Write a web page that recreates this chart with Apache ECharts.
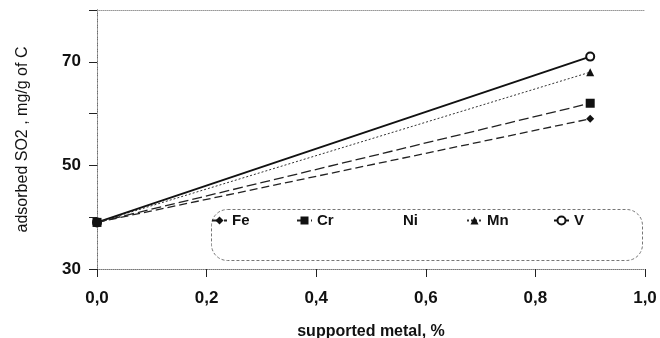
<!DOCTYPE html>
<html>
<head>
<meta charset="utf-8">
<script src="https://cdn.jsdelivr.net/npm/echarts@6/dist/echarts.min.js"></script>
<style>
  html, body { margin: 0; padding: 0; background: #fff; }
  #chart { width: 660px; height: 338px; }
</style>
</head>
<body>
<div id="chart"></div>
<script>
// supported metal loading, %
const loadings = [0, 0.9];

// adsorbed SO2, mg/g of C
const feValues = [39, 59];
const crValues = [39, 62];
const niValues = [39, 70];
const mnValues = [39, 68];
const vValues = [39, 71];

const seriesNames = ['Fe', 'Cr', 'Ni', 'Mn', 'V'];
const yLabels = [30, 50, 70];

const FONT = '"Liberation Sans", Arial, sans-serif';

// left edge of each legend entry (icon start), px
const legendLefts = [211, 296, 382, 466, 553];

function pairs(values) {
    return loadings.map((x, i) => [x, values[i]]);
}

const chart = echarts.init(document.getElementById('chart'));

const frameAxis = {
    show: true,
    axisLine: { show: true, lineStyle: { color: '#999', type: 'dotted', width: 1 } },
    axisTick: { show: false },
    axisLabel: { show: false },
    splitLine: { show: false }
};

const legends = seriesNames.map((name, i) => ({
    data: [name],
    left: legendLefts[i],
    top: 213,
    padding: 0,
    itemWidth: 15,
    itemHeight: 10,
    textStyle: {
        fontFamily: FONT,
        fontSize: 15,
        fontWeight: 'bold',
        color: '#111'
    }
}));

chart.setOption({
    animation: false,
    backgroundColor: '#fff',
    grid: { left: 97, right: 15, top: 10, bottom: 69, outerBoundsMode: 'none' },
    legend: legends,
    graphic: [{
        type: 'rect',
        left: 209,
        top: 207,
        shape: { width: 431, height: 51, r: 16 },
        style: { fill: 'none', stroke: '#777', lineWidth: 1, lineDash: [3, 2] },
        silent: true
    }],
    xAxis: [{
        type: 'value',
        min: 0,
        max: 1,
        interval: 0.2,
        name: 'supported metal, %',
        nameLocation: 'middle',
        nameGap: 55,
        nameTextStyle: { fontFamily: FONT, fontSize: 16, fontWeight: 'bold', color: '#111' },
        axisLine: { show: true, onZero: false, lineStyle: { color: '#777', type: 'dotted', width: 1 } },
        axisTick: { show: true, inside: false, length: 8, lineStyle: { color: '#222' } },
        axisLabel: {
            margin: 21,
            fontFamily: FONT,
            fontSize: 17,
            fontWeight: 'bold',
            color: '#111',
            formatter: v => v.toFixed(1).replace('.', ',')
        },
        splitLine: { show: false }
    }, Object.assign({ type: 'value', position: 'top', min: 0, max: 1 }, frameAxis)],
    yAxis: [{
        type: 'value',
        min: 30,
        max: 80,
        interval: 10,
        name: 'adsorbed SO2 , mg/g of C',
        nameLocation: 'middle',
        nameGap: 66,
        nameTextStyle: { fontFamily: FONT, fontSize: 16, color: '#111' },
        axisLine: { show: true, onZero: false, lineStyle: { color: '#222', type: 'dashed', width: 1 } },
        axisTick: { show: true, length: 8, lineStyle: { color: '#222' } },
        axisLabel: {
            margin: 16,
            fontFamily: FONT,
            fontSize: 17,
            fontWeight: 'bold',
            color: '#111',
            formatter: v => (yLabels.indexOf(v) >= 0 ? String(v) : '')
        },
        splitLine: { show: false }
    }, Object.assign({ type: 'value', position: 'right', min: 30, max: 80 }, frameAxis)],
    series: [
        {
            name: 'Fe',
            type: 'line',
            z: 3,
            data: pairs(feValues),
            symbol: 'diamond',
            symbolSize: 8,
            itemStyle: { color: '#111' },
            lineStyle: { color: '#222', width: 1.3, type: [8, 4] }
        },
        {
            name: 'Cr',
            type: 'line',
            z: 4,
            data: pairs(crValues),
            symbol: 'rect',
            symbolSize: 9,
            itemStyle: { color: '#111' },
            lineStyle: { color: '#222', width: 1.3, type: [10, 4] }
        },
        {
            name: 'Ni',
            type: 'line',
            z: 1,
            data: pairs(niValues),
            symbol: 'none',
            itemStyle: { color: '#fff', opacity: 0 },
            lineStyle: { opacity: 0 }
        },
        {
            name: 'Mn',
            type: 'line',
            z: 2,
            data: pairs(mnValues),
            symbol: 'triangle',
            symbolSize: 8,
            itemStyle: { color: '#111' },
            lineStyle: { color: '#333', width: 1, type: [2, 2] }
        },
        {
            name: 'V',
            type: 'line',
            z: 2,
            data: pairs(vValues),
            symbol: 'emptyCircle',
            symbolSize: 8,
            itemStyle: { color: '#111', borderColor: '#111', borderWidth: 1 },
            lineStyle: { color: '#111', width: 2 }
        }
    ]
});
</script>
</body>
</html>
